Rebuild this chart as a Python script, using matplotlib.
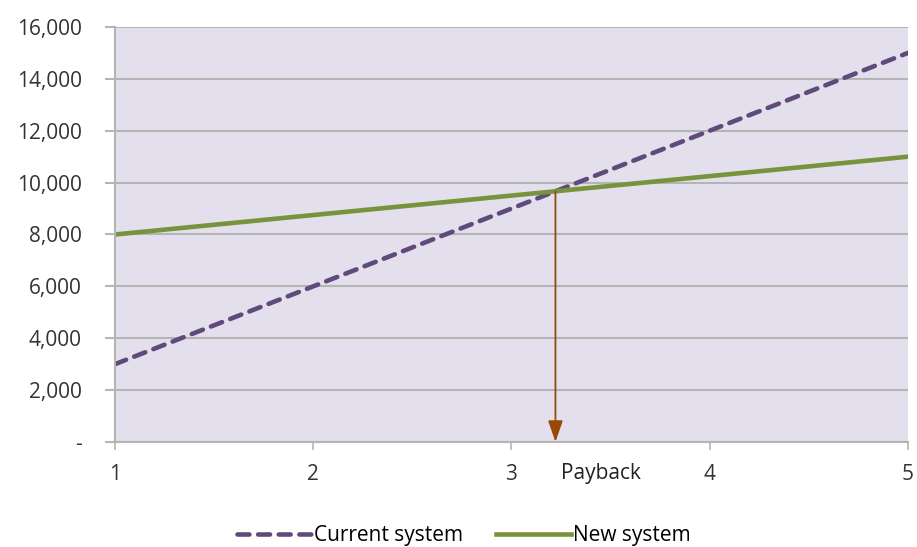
import numpy as np
import matplotlib
matplotlib.use('Agg')
from matplotlib import pyplot as plt

years = [1, 2, 3, 4, 5]
current = [3000, 6000, 9000, 12000, 15000]
new = [8000, 8750, 9500, 10250, 11000]
ytick_vals = [0, 2000, 4000, 6000, 8000, 10000, 12000, 14000, 16000]
ytick_labels = ['-', '2,000', '4,000', '6,000', '8,000', '10,000', '12,000', '14,000', '16,000']

plt.rcParams['font.family'] = ['Open Sans', 'DejaVu Sans']
fs = 15

fig = plt.figure(figsize=(9.17, 5.47), dpi=100)
ax = fig.add_axes([0.1254, 0.192, 0.8646, 0.7586])
ax.set_facecolor('#e4dfec')

ax.plot(years, current, color='#604a7b', lw=3.3, ls=(0, (2.6, 1.9)),
        dash_capstyle='round', label='Current system')
ax.plot(years, new, color='#77933c', lw=3.3, label='New system')

# payback point: where the two lines cross
c = np.polyfit(years, current, 1)
n = np.polyfit(years, new, 1)
xp = (n[1] - c[1]) / (c[0] - n[0])
yp = np.polyval(c, xp)
ax.annotate('', xy=(xp, 0), xytext=(xp, yp),
            arrowprops=dict(arrowstyle='-|>,head_length=1.3,head_width=0.45',
                            color='#984807', lw=1.3, shrinkA=0, shrinkB=0))
ax.text(xp + 0.03, -1200, 'Payback', fontsize=fs, color='#222222', va='center', ha='left')

ax.set_xlim(1, 5)
ax.set_ylim(0, 16000)
ax.set_xticks(years)
ax.set_yticks(ytick_vals)
ax.set_yticklabels(ytick_labels)
ax.grid(axis='y', color='#b4b4b4', lw=1.5)
ax.set_axisbelow(True)
for s in ['top', 'right']:
    ax.spines[s].set_visible(False)
ax.spines['left'].set_color('#b4b4b4')
ax.spines['bottom'].set_color('#b4b4b4')
ax.spines['left'].set_linewidth(1.5)
ax.spines['bottom'].set_linewidth(1.5)
ax.tick_params(axis='y', length=7, width=1.5, color='#b4b4b4', labelsize=fs, labelcolor='#333333', pad=17)
ax.tick_params(axis='x', length=6, width=1.2, color='#b4b4b4', labelsize=fs, labelcolor='#333333', pad=10)

ax.legend(loc='upper center', bbox_to_anchor=(0.44, -0.155), ncol=2, frameon=False,
          fontsize=fs, handlelength=3.6, handletextpad=0.1, columnspacing=1.6)

plt.savefig('out.png', dpi=100)
